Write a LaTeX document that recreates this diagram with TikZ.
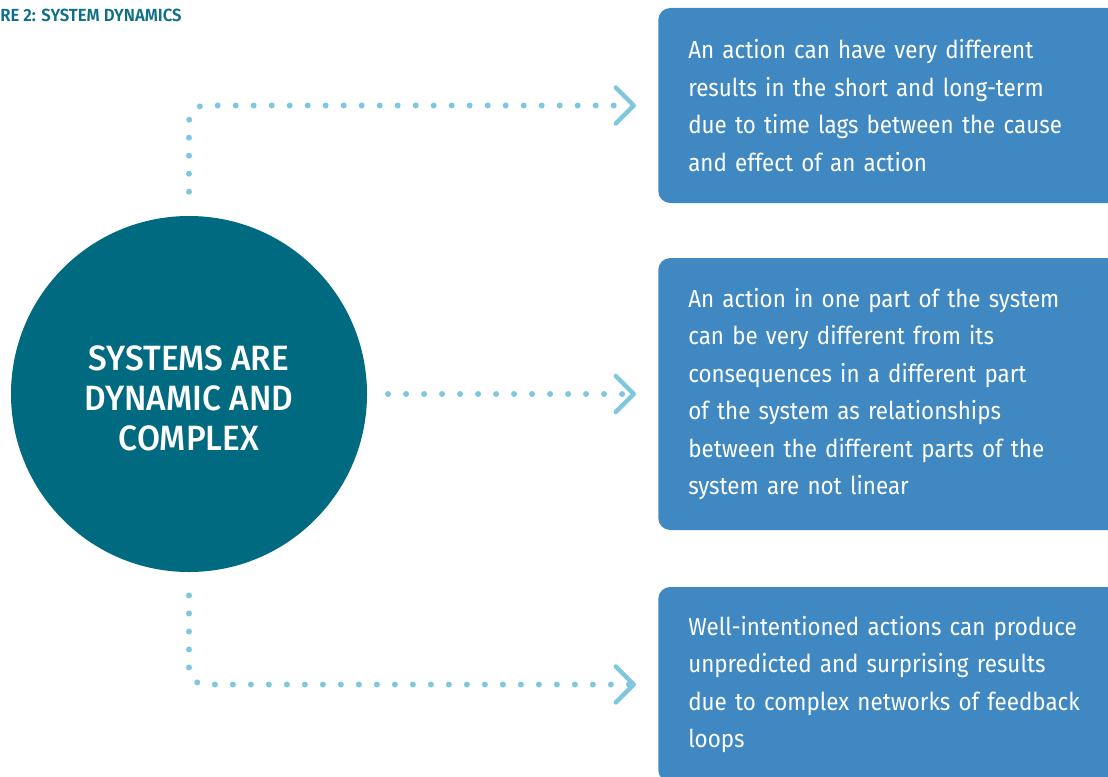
\documentclass[tikz,border=0pt]{standalone}
\usepackage{fontspec}
\setmainfont{Fira Sans}[FakeStretch=0.91]
\newfontfamily\headfont{Fira Sans Medium}[FakeStretch=0.95]
\newfontfamily\titlefont{Fira Sans SemiBold}[FakeStretch=0.95]
\usetikzlibrary{arrows.meta}

\definecolor{tealdark}{HTML}{006A80}
\definecolor{boxblue}{HTML}{4088C1}
\definecolor{dotblue}{HTML}{80C6DE}
\definecolor{titleteal}{HTML}{0D6F88}

\begin{document}
\begin{tikzpicture}[
    x=0.25mm, y=-0.25mm,
    hub/.style={circle, fill=tealdark, minimum size=89mm, inner sep=0pt, align=center,
        text=white, font=\headfont\fontsize{25}{28.5}\selectfont},
    note/.style={rectangle, rounded corners=3mm, fill=boxblue, anchor=west,
        minimum width=117.5mm, minimum height=48.75mm, inner xsep=7.5mm,
        text width=102.5mm, align=left, text=white,
        font=\fontsize{17.5}{26.7}\selectfont},
    dots/.style={dotblue, line width=1.5mm, line cap=round,
        dash pattern=on 0pt off 4.5mm, rounded corners=4mm,
        -{Straight Barb[length=4.5mm, width=9mm, line width=1.1mm, round]}}
]
\useasboundingbox (0,0) rectangle (1108,776);
\clip (0,0) rectangle (1108,776);

% heading, cut at the left edge
\node[anchor=west, inner sep=0pt, text=titleteal, font=\titlefont\fontsize{12.5}{14}\selectfont]
    (title) at (0,15) {RE 2: SYSTEM DYNAMICS};

% central circle
\node[hub] (sys) at (189,394) {\rule{0pt}{8.5mm}SYSTEMS ARE\\DYNAMIC AND\\COMPLEX};

% the three statements
\node[note] (lag) at (658,105.5) {An action can have very different\\results in the short and long-term\\due to time lags between the cause\\and effect of an action};
\node[note, minimum height=68mm] (part) at (658,394) {An action in one part of the system\\can be very different from its\\consequences in a different part\\of the system as relationships\\between the different parts of the\\system are not linear};
\node[note] (loop) at (658,684.5) {Well-intentioned actions can produce\\unpredicted and surprising results\\due to complex networks of feedback\\loops};

% dotted connectors
\draw[dots, shorten <=6mm, shorten >=5.5mm] (sys.north) |- (lag.west);
\draw[dots, shorten <=5.2mm, shorten >=5.5mm] (sys.east) -- (part.west);
\draw[dots, shorten <=5.8mm, shorten >=5.5mm] (sys.south) |- (loop.west);

\end{tikzpicture}
\end{document}
